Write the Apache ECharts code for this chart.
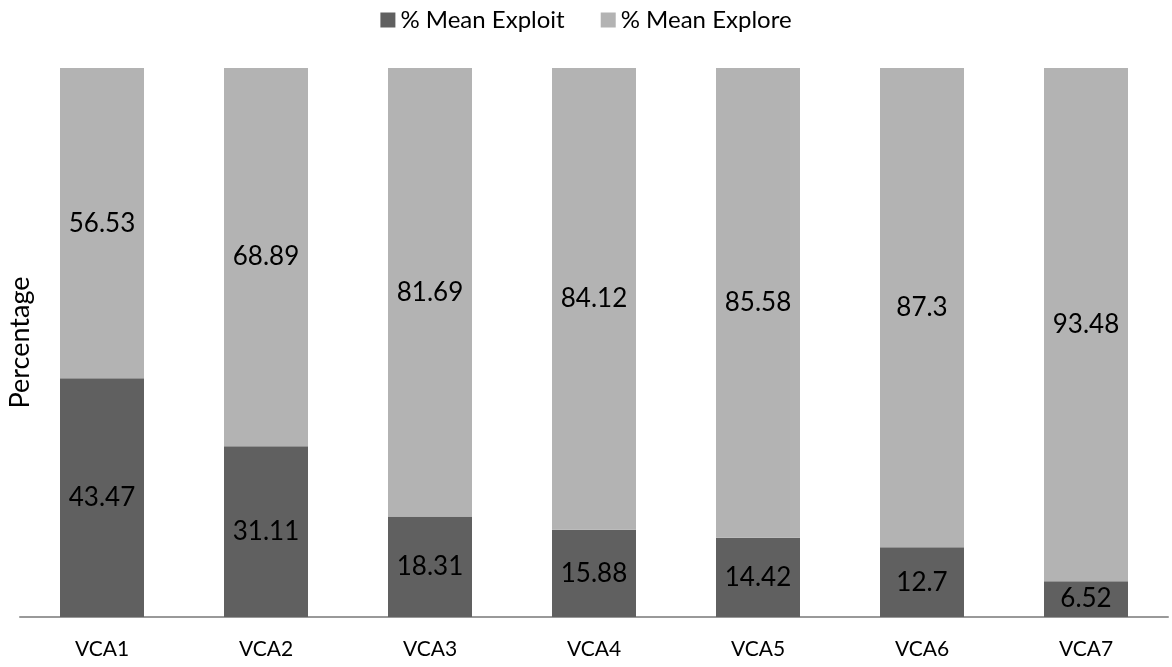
<!DOCTYPE html>
<html>
<head>
<meta charset="utf-8">
<script src="https://cdn.jsdelivr.net/npm/echarts@6/dist/echarts.min.js"></script>
<style>
  html, body { margin: 0; padding: 0; background: #fff; }
  #main { width: 1172px; height: 667px; }
</style>
</head>
<body>
<div id="main"></div>
<script>
const categories = ['VCA1', 'VCA2', 'VCA3', 'VCA4', 'VCA5', 'VCA6', 'VCA7'];
const meanExploit = [43.47, 31.11, 18.31, 15.88, 14.42, 12.7, 6.52];
const meanExplore = [56.53, 68.89, 81.69, 84.12, 85.58, 87.3, 93.48];

const font = 'Lato, "Open Sans", sans-serif';

let chart = echarts.init(document.getElementById('main'));

let option = {
    textStyle: { fontFamily: font },
    legend: {
        top: 3,
        left: 'center',
        itemWidth: 15,
        itemHeight: 15,
        itemGap: 36,
        icon: 'rect',
        textStyle: { fontSize: 24, color: '#000', fontFamily: font },
        data: ['% Mean Exploit', '% Mean Explore']
    },
    grid: {
        left: 20,
        right: 4,
        top: 68,
        bottom: 50,
        outerBoundsMode: 'none',
        containLabel: false
    },
    xAxis: {
        type: 'category',
        data: categories,
        axisLine: { lineStyle: { color: '#999', width: 2 } },
        axisTick: { show: false },
        axisLabel: { fontSize: 21, color: '#000', margin: 22, fontFamily: font }
    },
    yAxis: {
        type: 'value',
        min: 0,
        max: 100,
        name: 'Percentage',
        nameLocation: 'middle',
        nameGap: -14,
        nameTextStyle: { fontSize: 27, color: '#000', fontFamily: font },
        axisLine: { show: false },
        axisTick: { show: false },
        axisLabel: { show: false },
        splitLine: { show: false }
    },
    series: [
        {
            name: '% Mean Exploit',
            type: 'bar',
            stack: 'total',
            barWidth: 84,
            data: meanExploit,
            itemStyle: { color: '#606060' },
            label: { show: true, position: 'inside', fontSize: 26, color: '#000', fontFamily: font }
        },
        {
            name: '% Mean Explore',
            type: 'bar',
            stack: 'total',
            barWidth: 84,
            data: meanExplore,
            itemStyle: { color: '#b3b3b3' },
            label: { show: true, position: 'inside', fontSize: 26, color: '#000', fontFamily: font }
        }
    ]
};
chart.setOption(option);
</script>
</body>
</html>
